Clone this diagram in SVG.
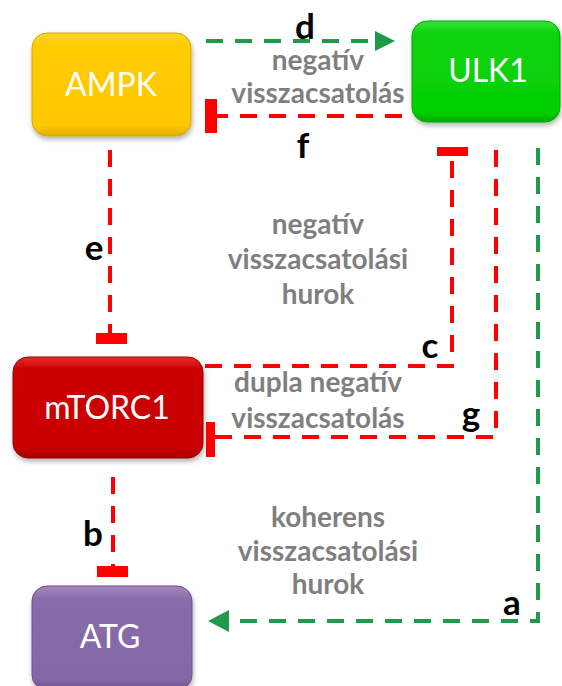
<svg xmlns="http://www.w3.org/2000/svg" width="562" height="686" viewBox="0 0 562 686">
  <style>
    .node-label { font-family: Lato, "Open Sans", "Liberation Sans", sans-serif; font-size: 32px; fill: #ffffff; text-anchor: middle; }
    .tag { font-family: Lato, "Liberation Sans", sans-serif; font-weight: bold; font-size: 35px; fill: #000000; text-anchor: middle; }
    .note { font-family: Lato, "Liberation Sans", sans-serif; font-weight: bold; font-size: 28px; fill: #7f7f7f; text-anchor: middle; }
    .inhib { fill: none; stroke: #ff0000; stroke-width: 4; stroke-dasharray: 17 12; }
    .activ { fill: none; stroke: #1e9a4a; stroke-width: 4; stroke-dasharray: 17 12; }
    .bar { fill: #ff0000; }
    .head { fill: #1e9a4a; }
  </style>
  <defs>
    <filter id="shadow" x="-10%" y="-10%" width="125%" height="130%">
      <feDropShadow dx="1" dy="3" stdDeviation="2.5" flood-color="#000000" flood-opacity="0.3"/>
    </filter>
    <linearGradient id="gYellow" x1="0" y1="0" x2="0" y2="1">
      <stop offset="0" stop-color="#ffd633"/>
      <stop offset="0.12" stop-color="#ffcc00"/>
      <stop offset="0.9" stop-color="#ffc800"/>
      <stop offset="1" stop-color="#e0ad00"/>
    </linearGradient>
    <linearGradient id="gGreen" x1="0" y1="0" x2="0" y2="1">
      <stop offset="0" stop-color="#3ce03c"/>
      <stop offset="0.12" stop-color="#0ad40a"/>
      <stop offset="0.9" stop-color="#05cf05"/>
      <stop offset="1" stop-color="#00ad00"/>
    </linearGradient>
    <linearGradient id="gRed" x1="0" y1="0" x2="0" y2="1">
      <stop offset="0" stop-color="#e03030"/>
      <stop offset="0.12" stop-color="#cc0000"/>
      <stop offset="0.9" stop-color="#c80000"/>
      <stop offset="1" stop-color="#a50000"/>
    </linearGradient>
    <linearGradient id="gPurple" x1="0" y1="0" x2="0" y2="1">
      <stop offset="0" stop-color="#a48ac4"/>
      <stop offset="0.12" stop-color="#896caa"/>
      <stop offset="0.9" stop-color="#8466a6"/>
      <stop offset="1" stop-color="#6e5290"/>
    </linearGradient>
  </defs>

  <rect width="562" height="686" fill="#ffffff"/>

  <!-- connectors -->
  <g id="connectors">
    <!-- d: AMPK activates ULK1 -->
    <path class="activ" d="M206,41 H376"/>
    <polygon class="head" points="395,41 375,31 375,51"/>
    <!-- f: ULK1 inhibits AMPK -->
    <path class="inhib" d="M402,116 H217"/>
    <rect class="bar" x="205" y="99" width="12" height="34"/>
    <!-- e: AMPK inhibits mTORC1 -->
    <path class="inhib" d="M110,150 V333"/>
    <rect class="bar" x="96" y="333" width="31" height="11"/>
    <!-- c: mTORC1 inhibits ULK1 -->
    <path class="inhib" d="M205,366 H452 V156"/>
    <rect class="bar" x="437" y="147" width="31" height="9"/>
    <!-- g: ULK1 inhibits mTORC1 -->
    <path class="inhib" d="M496,150 V437 H215"/>
    <rect class="bar" x="206" y="422" width="9" height="35"/>
    <!-- a: ULK1 activates ATG -->
    <path class="activ" d="M538,148 V621 H229"/>
    <polygon class="head" points="208,621 229,610 229,632"/>
    <!-- b: mTORC1 inhibits ATG -->
    <path class="inhib" d="M113,477 V566"/>
    <rect class="bar" x="97" y="566" width="31" height="11"/>
  </g>

  <!-- connector tags -->
  <g id="tags">
    <text class="tag" x="305" y="39">d</text>
    <text class="tag" x="303" y="158">f</text>
    <text class="tag" x="94" y="260">e</text>
    <text class="tag" x="430" y="358">c</text>
    <text class="tag" x="471" y="426">g</text>
    <text class="tag" x="512" y="615">a</text>
    <text class="tag" x="93" y="546">b</text>
  </g>

  <!-- loop descriptions -->
  <g id="notes">
    <text class="note" x="318" y="70">negatív</text>
    <text class="note" x="318" y="103">visszacsatolás</text>
    <text class="note" x="318" y="234">negatív</text>
    <text class="note" x="318" y="269">visszacsatolási</text>
    <text class="note" x="318" y="304">hurok</text>
    <text class="note" x="318" y="392">dupla negatív</text>
    <text class="note" x="318" y="428">visszacsatolás</text>
    <text class="note" x="328" y="527">koherens</text>
    <text class="note" x="328" y="561">visszacsatolási</text>
    <text class="note" x="328" y="594">hurok</text>
  </g>

  <!-- nodes -->
  <g id="AMPK">
    <rect x="32" y="33" width="159" height="103" rx="15" fill="url(#gYellow)" stroke="#d4a800" stroke-width="1" filter="url(#shadow)"/>
    <text class="node-label" x="111" y="96">AMPK</text>
  </g>
  <g id="ULK1">
    <rect x="412" y="21" width="148" height="101" rx="15" fill="url(#gGreen)" stroke="#00a800" stroke-width="1" filter="url(#shadow)"/>
    <text class="node-label" x="488" y="82">ULK1</text>
  </g>
  <g id="mTORC1">
    <rect x="13" y="357" width="190" height="101" rx="15" fill="url(#gRed)" stroke="#a00000" stroke-width="1" filter="url(#shadow)"/>
    <text class="node-label" x="107" y="419">mTORC1</text>
  </g>
  <g id="ATG">
    <rect x="32" y="586" width="160" height="104" rx="15" fill="url(#gPurple)" stroke="#6a4f8c" stroke-width="1" filter="url(#shadow)"/>
    <text class="node-label" x="110" y="648">ATG</text>
  </g>
</svg>
